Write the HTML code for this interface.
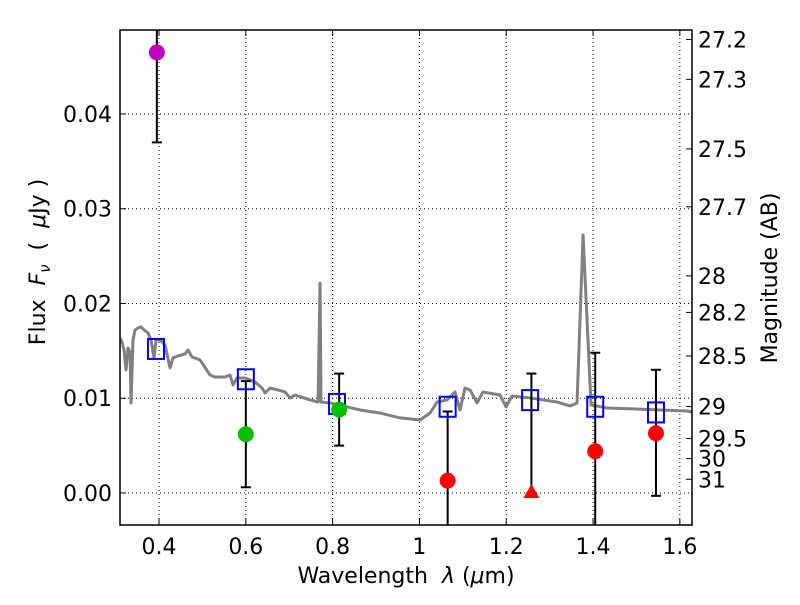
<!DOCTYPE html>
<html><head><meta charset="utf-8"><style>
body{margin:0;background:#fff;}
svg text{font-family:"DejaVu Sans","Liberation Sans",sans-serif;fill:#000;}
</style></head><body>
<svg id="c" width="800" height="600" xmlns="http://www.w3.org/2000/svg"></svg>
<script>
const specLam=[0.310,0.3147,0.3194,0.3240,0.3286,0.3332,0.3355,0.3401,0.3447,0.3516,0.3585,0.3654,0.3747,0.3816,0.3885,0.3931,0.4023,0.4138,0.4253,0.4323,0.4438,0.4599,0.4668,0.4760,0.4945,0.5175,0.5290,0.5521,0.5636,0.5705,0.5797,0.5982,0.6212,0.6373,0.6442,0.6558,0.6903,0.7018,0.7134,0.7479,0.7664,0.7710,0.7733,0.7940,0.8631,0.9092,0.9553,1.0014,1.0244,1.0406,1.0636,1.0820,1.0935,1.1051,1.1166,1.1327,1.1465,1.1857,1.1995,1.2134,1.2548,1.3171,1.3470,1.3631,1.3770,1.3954,1.4323,1.4922,1.6166,1.628];
const specFlux=[0.01636,0.01594,0.01509,0.01298,0.01530,0.01488,0.00950,0.01615,0.01720,0.01741,0.01752,0.01720,0.01689,0.01615,0.01425,0.01615,0.01615,0.01562,0.01319,0.01425,0.01446,0.01467,0.01509,0.01435,0.01404,0.01245,0.01224,0.01224,0.01245,0.01140,0.01214,0.01214,0.01172,0.01108,0.01055,0.01108,0.01066,0.01003,0.01034,0.00982,0.00960,0.02216,0.00960,0.00950,0.00876,0.00844,0.00792,0.00770,0.00844,0.00960,0.00982,0.01066,0.00876,0.01108,0.01087,0.00950,0.01066,0.01034,0.00908,0.01024,0.01003,0.00960,0.00918,0.00950,0.02723,0.00929,0.00897,0.00887,0.00865,0.00855];
const modelLam=[0.393,0.600,0.810,1.065,1.255,1.405,1.545];
const modelFlux=[0.0152,0.0120,0.0094,0.0091,0.0098,0.0091,0.0085];
const obsLam=[0.395,0.600,0.815,1.065,1.258,1.405,1.545];
const obsFlux=[0.0465,0.0062,0.0088,0.0013,0.0000,0.0044,0.0063];
const obsLo=[0.0370,0.0006,0.0050,-0.006,0.0000,-0.006,-0.0003];
const obsHi=[0.0500,0.0118,0.0126,0.0086,0.0126,0.0148,0.0130];
const obsColor=['#bf00bf','#00c000','#00c000','#ff0000','#ff0000','#ff0000','#ff0000'];
const obsShape=['circle','circle','circle','circle','triangle','circle','circle'];
const xTicks=[0.4,0.6,0.8,1.0,1.2,1.4,1.6];
const xTickLabels=['0.4','0.6','0.8','1','1.2','1.4','1.6'];
const yTicks=[0,0.01,0.02,0.03,0.04];
const yTickLabels=['0.00','0.01','0.02','0.03','0.04'];
const magTicks=[27.2,27.3,27.5,27.7,28,28.2,28.5,29,29.5,30,31];

const L=120,R=692,T=30,B=525;
const xmin=0.3101,xmax=1.628,ymin=-0.00338,ymax=0.04886;
const X=v=>L+(v-xmin)/(xmax-xmin)*(R-L);
const Y=v=>B-(v-ymin)/(ymax-ymin)*(B-T);
const svg=document.getElementById('c');
const NS='http://www.w3.org/2000/svg';
function mk(tag,attrs,parent){const e=document.createElementNS(NS,tag);for(const k in attrs)e.setAttribute(k,attrs[k]);(parent||svg).appendChild(e);return e;}
const clip=mk('clipPath',{id:'pc'});mk('rect',{x:L,y:T,width:R-L,height:B-T},clip);

xTicks.forEach((t,i)=>{
 const g=mk('line',{x1:X(t),x2:X(t),y1:T,y2:B,stroke:'#000','stroke-width':1,'stroke-dasharray':'1,3'});
 
 
 mk('line',{x1:X(t),x2:X(t),y1:B,y2:B-6,stroke:'#000'});
 mk('line',{x1:X(t),x2:X(t),y1:T,y2:T+6,stroke:'#000'});
 const tx=mk('text',{x:X(t),y:B+29,'text-anchor':'middle','font-size':22});tx.textContent=xTickLabels[i];
 
 
});
yTicks.forEach((t,i)=>{
 const g=mk('line',{x1:L,x2:R,y1:Y(t),y2:Y(t),stroke:'#000','stroke-width':1,'stroke-dasharray':'1,3'});
 
 
 mk('line',{x1:L,x2:L+6,y1:Y(t),y2:Y(t),stroke:'#000'});
 const tx=mk('text',{x:L-8,y:Y(t)+8,'text-anchor':'end','font-size':22});tx.textContent=yTickLabels[i];
 
 
});
magTicks.forEach(m=>{
 const f=Math.pow(10,(23.9-m)/2.5);
 mk('line',{x1:R,x2:R-6,y1:Y(f),y2:Y(f),stroke:'#000'});
 const tx=mk('text',{x:R+6,y:Y(f)+8,'font-size':22});tx.textContent=String(m);
 
 
});

const pg=mk('g',{'clip-path':'url(#pc)'});
const sp=mk('polyline',{points:specLam.map((l,i)=>X(l)+','+Y(specFlux[i])).join(' '),fill:'none',stroke:'#808080','stroke-width':3,'stroke-linejoin':'round'},pg);



obsLam.forEach((l,i)=>{
 const x=X(l);
 const eb=mk('line',{x1:x,x2:x,y1:Y(obsLo[i]),y2:Y(obsHi[i]),stroke:'#000','stroke-width':2},pg);
 
 
 [obsLo[i],obsHi[i]].forEach(v=>{ if(v>ymin&&v<ymax) mk('line',{x1:x-5,x2:x+5,y1:Y(v),y2:Y(v),stroke:'#000','stroke-width':2},pg);});
});
modelLam.forEach((l,i)=>{
 const s=mk('rect',{x:X(l)-8,y:Y(modelFlux[i])-10,width:16,height:20,fill:'none',stroke:'#0000ff','stroke-width':2},pg);
 
 
});
obsLam.forEach((l,i)=>{
 const x=X(l),y=Y(obsFlux[i]);let p;
 if(obsShape[i]==='triangle'){p=mk('polygon',{points:`${x},${y-9} ${x-8},${y+5} ${x+8},${y+5}`,fill:obsColor[i]},pg);}
 else p=mk('circle',{cx:x,cy:y,r:8,fill:obsColor[i]},pg);
 
 
});

const fr=mk('rect',{x:L,y:T,width:R-L,height:B-T,fill:'none',stroke:'#000','stroke-width':1.5});



const xl=mk('text',{x:406,y:583,'text-anchor':'middle','font-size':22});
xl.innerHTML='Wavelength&#160;&#160;<tspan font-style="italic">λ</tspan> (<tspan font-style="italic">μ</tspan>m)';


const yl=mk('text',{x:0,y:0,'text-anchor':'middle','font-size':22,transform:'translate(45,262) rotate(-90)'});
yl.innerHTML='Flux&#160;&#160;<tspan font-style="italic">F</tspan><tspan font-style="italic" font-size="15" dy="5">ν</tspan><tspan dy="-5">&#160;&#160;(&#160;&#160;</tspan><tspan font-style="italic">μ</tspan>Jy )';


const ml=mk('text',{x:0,y:0,'text-anchor':'middle','font-size':22,transform:'translate(777,278) rotate(-90)'});
ml.textContent='Magnitude (AB)';


</script>
</body></html>
